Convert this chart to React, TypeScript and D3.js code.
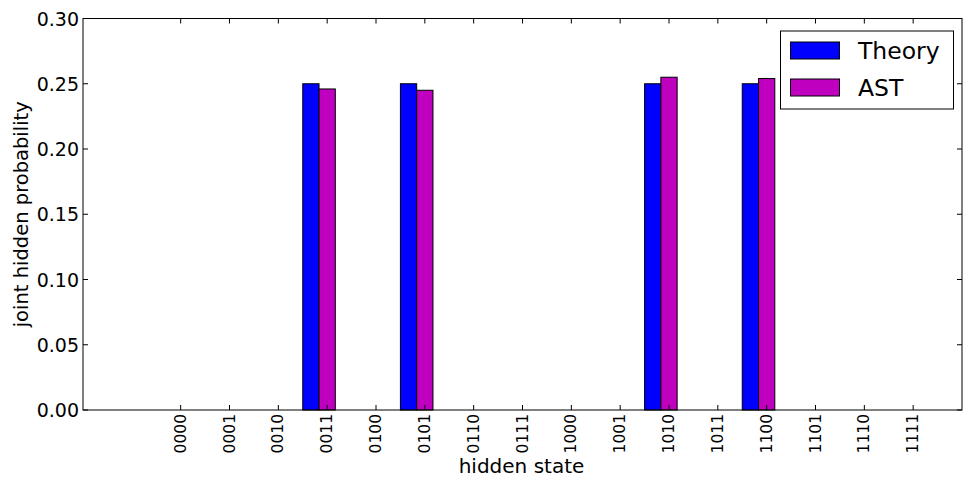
import React from "react";
import * as d3 from "d3";

const categories = ["0000","0001","0010","0011","0100","0101","0110","0111","1000","1001","1010","1011","1100","1101","1110","1111"];
const theory = [0,0,0,0.25,0,0.25,0,0,0,0,0.25,0,0.25,0,0,0];
const ast = [0,0,0,0.246,0,0.245,0,0,0,0,0.255,0,0.254,0,0,0];
const yTicks = [0,0.05,0.10,0.15,0.20,0.25,0.30];
const seriesNames = ["Theory","AST"];
const seriesColors = ["#0000ff","#bf00bf"];

const W = 967, H = 482;
const left = 83, right = 962, top = 18.5, bottom = 410;
const font = "'DejaVu Sans', sans-serif";

export default function App() {
  const x = d3.scaleLinear().domain([-1.5, 16.5]).range([left, right]);
  const y = d3.scaleLinear().domain([0, 0.3]).range([bottom, top]);
  const bw = 1 / 3;
  const series = [theory, ast];
  return (
    <svg width={W} height={H} style={{ position: "absolute", left: 0, top: 0, background: "#fff" }}>
      <rect x={0} y={0} width={W} height={H} fill="#fff" />
      {series.map((vals, s) =>
        vals.map((v, i) => {
          if (v <= 0) return null;
          const x0 = x(i + s * bw);
          const x1 = x(i + (s + 1) * bw);
          return (
            <rect key={`${s}-${i}`} x={x0} y={y(v)} width={x1 - x0} height={y(0) - y(v)}
              fill={seriesColors[s]} stroke="#000" strokeWidth={1} />
          );
        })
      )}
      <rect x={left} y={top} width={right - left} height={bottom - top} fill="none" stroke="#000" strokeWidth={1} />
      {yTicks.map((t) => (
        <g key={t}>
          <line x1={left} x2={left + 5} y1={y(t)} y2={y(t)} stroke="#000" />
          <line x1={right} x2={right - 5} y1={y(t)} y2={y(t)} stroke="#000" />
          <text x={left - 4} y={y(t)} textAnchor="end" dominantBaseline="central" fontFamily={font} fontSize={19}>
            {t.toFixed(2)}
          </text>
        </g>
      ))}
      {categories.map((c, i) => {
        const cx = x(i + 0.5);
        return (
          <g key={c}>
            <line x1={cx} x2={cx} y1={bottom} y2={bottom - 5} stroke="#000" />
            <line x1={cx} x2={cx} y1={top} y2={top + 5} stroke="#000" />
            <text transform={`translate(${cx},${bottom + 4}) rotate(-90)`} textAnchor="end" dominantBaseline="central"
              fontFamily={font} fontSize={15.5}>
              {c}
            </text>
          </g>
        );
      })}
      <text x={(left + right) / 2 - 1} y={473} textAnchor="middle" fontFamily={font} fontSize={20}>hidden state</text>
      <text transform={`translate(28,${(top + bottom) / 2}) rotate(-90)`} textAnchor="middle" fontFamily={font} fontSize={19.5}>
        joint hidden probability
      </text>
      <g>
        <rect x={780.5} y={31} width={173} height={78} fill="#fff" stroke="#000" strokeWidth={1} />
        {seriesNames.map((n, s) => (
          <g key={n}>
            <rect x={790.5} y={42 + s * 37} width={49} height={17} fill={seriesColors[s]} stroke="#000" />
            <text x={858} y={50.5 + s * 37} dominantBaseline="central" fontFamily={font} fontSize={23.5}>{n}</text>
          </g>
        ))}
      </g>
    </svg>
  );
}
